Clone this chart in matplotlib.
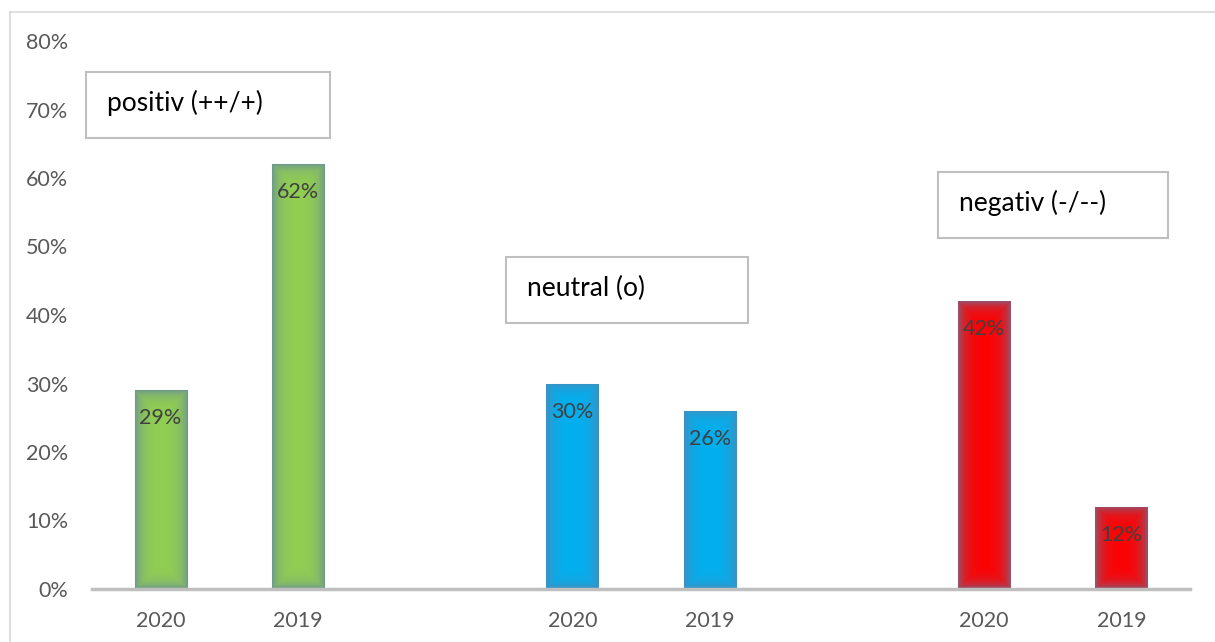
import numpy as np
import matplotlib
matplotlib.use("Agg")
import matplotlib.pyplot as plt
from matplotlib.patches import Rectangle
from matplotlib.lines import Line2D
from matplotlib.colors import to_rgb

# data
years = ["2020", "2019", "", "2020", "2019", "", "2020", "2019"]
values = [0.29, 0.62, None, 0.30, 0.26, None, 0.42, 0.12]
bar_colors = ["#92D050", "#92D050", None, "#00B0F0", "#00B0F0", None, "#FF0000", "#FF0000"]
group_labels = ["positiv (++/+)", "neutral (o)", "negativ (-/--)"]

W, H = 1215, 642
DPI = 100
plt.rcParams['font.family'] = ['Lato', 'DejaVu Sans']

fig = plt.figure(figsize=(W / DPI, H / DPI), dpi=DPI)
ax = fig.add_axes([92 / W, (H - 589) / H, (1190 - 92) / W, 548 / H])

ax.set_xlim(-0.5, len(years) - 0.5)
ax.set_ylim(0, 0.8)
bar_w = 0.38
edge_rgb = np.array(to_rgb("#5f7fa6"))

for i, (v, c) in enumerate(zip(values, bar_colors)):
    if v is None:
        continue
    bars = ax.bar(i, v, width=bar_w, color=c, edgecolor="#a9c4e0", linewidth=0.8, zorder=3)
    rect = bars[0]
    # vignette gradient towards the edges
    wpx = 52
    hpx = max(int(v * 685), 2)
    xx = np.arange(wpx) + 0.5
    yy = np.arange(hpx) + 0.5
    dx = np.minimum(xx, wpx - xx)[None, :]
    dy = np.minimum(yy, hpx - yy)[:, None]
    d = np.minimum(dx, dy)
    wgt = 0.7 * np.exp(-d / 7.0)
    base = np.array(to_rgb(c))
    img = base[None, None, :] * (1 - wgt[..., None]) + edge_rgb[None, None, :] * wgt[..., None]
    im = ax.imshow(img, extent=(i - bar_w / 2, i + bar_w / 2, 0, v), aspect="auto",
                   zorder=3.5, interpolation="bilinear")
    im.set_clip_path(rect)
    ax.text(i, v - 0.041, f"{round(v * 100)}%", ha="center", va="center",
            fontsize=15.5, color="#404040", zorder=5)

ax.set_xticks(range(len(years)))
ax.set_xticklabels(years)
ax.set_yticks(np.arange(0, 0.81, 0.1))
ax.set_yticklabels([f"{int(round(t * 100))}%" for t in np.arange(0, 0.81, 0.1)])
ax.tick_params(axis="both", length=0, labelsize=15.5, labelcolor="#595959")
ax.tick_params(axis="x", pad=15.5)
ax.tick_params(axis="y", pad=17)
for s in ["top", "right", "left"]:
    ax.spines[s].set_visible(False)
ax.spines["bottom"].set_color("#bfbfbf")
ax.spines["bottom"].set_linewidth(2.5)
ax.spines["bottom"].set_zorder(6)
ax.patch.set_alpha(0)

# outer frame (top and left visible)
fig.add_artist(Line2D([10 / W, 1.0], [1 - 12 / H, 1 - 12 / H], color="#d9d9d9", lw=1.2))
fig.add_artist(Line2D([10 / W, 10 / W], [0, 1 - 12 / H], color="#d9d9d9", lw=1.2))

# group label boxes (pixel rects: x0, y0, x1, y1)
boxes = [(86, 72, 330, 138), (506, 257, 748, 323), (938, 172, 1168, 238)]
for (x0, y0, x1, y1), lab in zip(boxes, group_labels):
    fig.add_artist(Rectangle((x0 / W, 1 - y1 / H), (x1 - x0) / W, (y1 - y0) / H,
                             facecolor="white", edgecolor="#bfbfbf", lw=1.5, zorder=7))
    fig.text((x0 + 21) / W, 1 - ((y0 + y1) / 2 - 2) / H, lab, ha="left", va="center",
             fontsize=19, color="black", zorder=8)

fig.savefig("out.png", dpi=DPI)
